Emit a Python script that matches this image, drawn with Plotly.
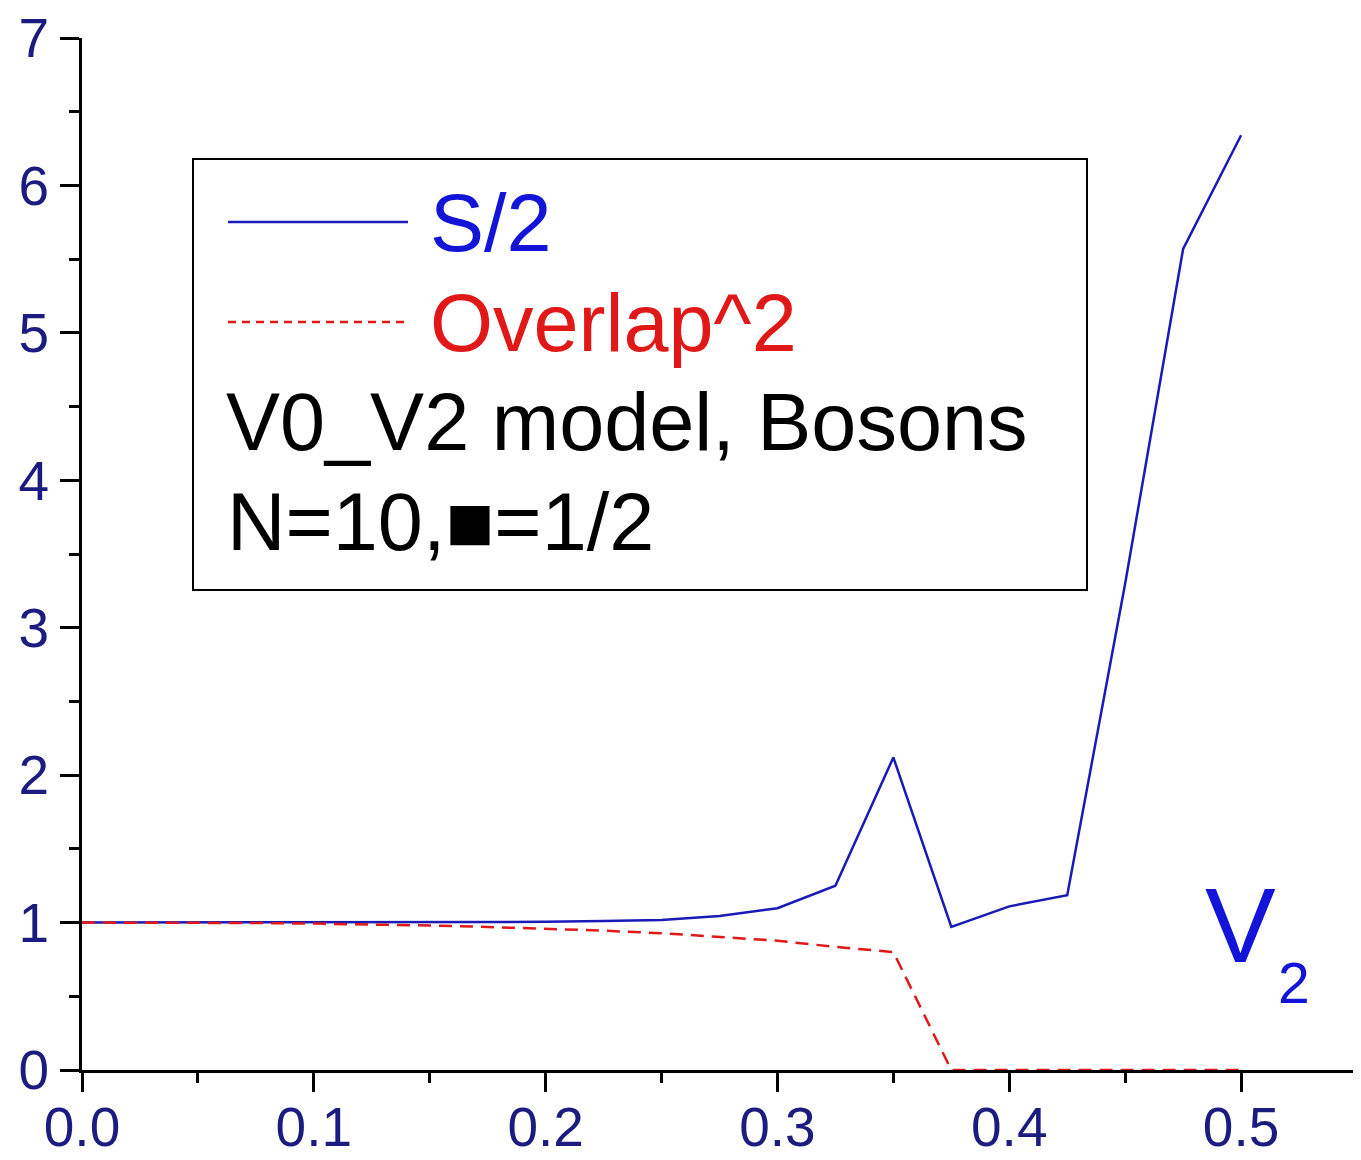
import plotly.graph_objects as go

# ---- data ----
v2 = [0.0, 0.025, 0.05, 0.075, 0.1, 0.125, 0.15, 0.175, 0.2, 0.225, 0.25,
      0.275, 0.3, 0.325, 0.35, 0.375, 0.4, 0.425, 0.45, 0.475, 0.5]
s_half = [1.000, 1.000, 1.000, 1.000, 1.000, 1.001, 1.002, 1.003, 1.005, 1.010, 1.018,
          1.045, 1.097, 1.25, 2.12, 0.97, 1.11, 1.185, 3.3, 5.57, 6.34]
overlap_sq = [1.000, 1.000, 0.999, 0.997, 0.993, 0.988, 0.980, 0.970, 0.958, 0.945, 0.928,
              0.905, 0.877, 0.835, 0.800, 0.0, 0.0, 0.0, 0.0, 0.0, 0.0]

x_tickvals = [0.0, 0.1, 0.2, 0.3, 0.4, 0.5, 0.55]
x_ticktext = ["0.0", "0.1", "0.2", "0.3", "0.4", "0.5", ""]
y_tickvals = [0, 1, 2, 3, 4, 5, 6, 7]
y_ticktext = ["0", "1", "2", "3", "4", "5", "6", "7"]

legend_lines = ["S/2", "Overlap^2", "V0_V2 model, Bosons", "N=10,\u25A0=1/2"]

BLUE_LINE = "#1a1ab8"
BLUE_TEXT = "#1414d8"
RED = "#e01818"
NAVY = "#1c1c80"
FONT = "Liberation Sans, Arial, sans-serif"

OFF = 8  # page body margin
W, H = 1361 - OFF, 1160 - OFF
# plot area in page pixels
PX0, PX1, PY0, PY1 = 82, 1357, 38, 1070
L, R, T, B = PX0 - OFF, W - (PX1 - OFF), PY0 - OFF, H - (PY1 - OFF)

fig = go.Figure()
fig.add_trace(go.Scatter(x=v2, y=s_half, mode="lines", name=legend_lines[0],
                         line=dict(color=BLUE_LINE, width=2.5)))
fig.add_trace(go.Scatter(x=v2, y=overlap_sq, mode="lines", name=legend_lines[1],
                         line=dict(color=RED, width=2.5, dash="13px,8px")))

def px2paper(px, py):
    return (px - PX0) / (PX1 - PX0), (PY1 - py) / (PY1 - PY0)

# legend box
x0, y0 = px2paper(193, 590)
x1, y1 = px2paper(1087, 159)
fig.add_shape(type="rect", xref="paper", yref="paper", x0=x0, y0=y0, x1=x1, y1=y1,
              line=dict(color="black", width=2), fillcolor="rgba(0,0,0,0)")
# legend line samples
for py, col, dash in [(222, BLUE_LINE, "solid"), (322, RED, "8px,6px")]:
    a0, b0 = px2paper(228, py)
    a1, _ = px2paper(408, py)
    fig.add_shape(type="line", xref="paper", yref="paper", x0=a0, y0=b0, x1=a1, y1=b0,
                  line=dict(color=col, width=2.5, dash=dash))

# legend texts
for text, col, pxx, pyy in [(legend_lines[0], BLUE_TEXT, 428, 223),
                            (legend_lines[1], RED, 428, 323),
                            (legend_lines[2], "black", 224, 422),
                            (legend_lines[3], "black", 225, 522)]:
    ax, ay = px2paper(pxx, pyy)
    fig.add_annotation(x=ax, y=ay, xref="paper", yref="paper", text=text, showarrow=False,
                       xanchor="left", yanchor="middle",
                       font=dict(family=FONT, size=81, color=col))

# V2 label
ax, ay = px2paper(1203, 925)
fig.add_annotation(x=ax, y=ay, xref="paper", yref="paper", text="V", showarrow=False,
                   xanchor="left", yanchor="middle", font=dict(family=FONT, size=106, color=BLUE_TEXT))
ax, ay = px2paper(1276, 983)
fig.add_annotation(x=ax, y=ay, xref="paper", yref="paper", text="2", showarrow=False,
                   xanchor="left", yanchor="middle", font=dict(family=FONT, size=57, color=BLUE_TEXT))

common = dict(showline=True, linecolor="black", linewidth=3, showgrid=False, zeroline=False,
              ticks="outside", ticklen=19, tickwidth=3, tickcolor="black", tickmode="array",
              tickfont=dict(family=FONT, size=55, color=NAVY), automargin=False,
              ticklabeloverflow="allow", layer="below traces")
fig.update_xaxes(range=[0, 0.55], tickvals=x_tickvals, ticktext=x_ticktext,
                 ticklabelstandoff=-12,
                 minor=dict(ticks="outside", ticklen=10, tickwidth=3, tickcolor="black",
                            tick0=0, dtick=0.05, showgrid=False), **common)
fig.update_yaxes(range=[0, 7], tickvals=y_tickvals, ticktext=y_ticktext,
                 minor=dict(ticks="outside", ticklen=10, tickwidth=3, tickcolor="black",
                            tick0=0, dtick=0.5, showgrid=False), **common)

fig.update_layout(width=W, height=H, margin=dict(l=L, r=R, t=T, b=B),
                  plot_bgcolor="white", paper_bgcolor="white", showlegend=False)

fig.write_html("out.html")
